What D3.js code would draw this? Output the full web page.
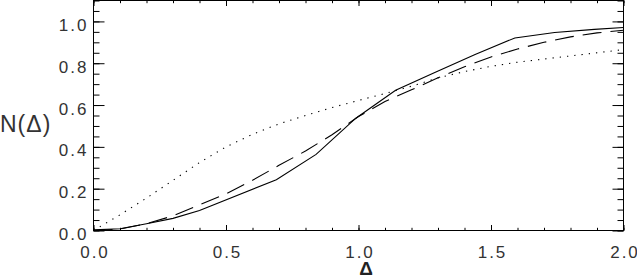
<!DOCTYPE html>
<html><head><meta charset="utf-8">
<script src="https://cdn.jsdelivr.net/npm/d3@7"></script>
<style>
html,body{margin:0;padding:0;background:#fff;}
svg text{font-family:"Liberation Sans",Arial,Helvetica,sans-serif;}
</style></head>
<body><svg id="c" width="637" height="279"></svg>
<script>
// ---- data ----
const solidX = [0, 0.1, 0.2, 0.3, 0.4, 0.69, 0.84, 0.99, 1.14, 1.29, 1.44, 1.59, 1.74, 1.89, 2.0];
const solidY = [0.003, 0.008, 0.032, 0.058, 0.096, 0.243, 0.364, 0.537, 0.671, 0.757, 0.842, 0.921, 0.947, 0.962, 0.971];
const dashX = [0, 0.1, 0.2, 0.3, 0.4, 0.5, 0.6, 0.7, 0.8, 0.9, 1.0, 1.1, 1.2, 1.3, 1.4, 1.5, 1.6, 1.7, 1.8, 1.9, 2.0];
const dashY = [0.0, 0.007, 0.033, 0.07, 0.123, 0.175, 0.24, 0.312, 0.38, 0.458, 0.545, 0.617, 0.673, 0.73, 0.783, 0.83, 0.868, 0.9, 0.926, 0.945, 0.958];
const dotX = [0, 0.1, 0.2, 0.3, 0.4, 0.5, 0.6, 0.7, 0.8, 0.9, 1.0, 1.1, 1.2, 1.3, 1.4, 1.5, 1.6, 1.7, 1.8, 1.9, 2.0];
const dotY = [0.0, 0.075, 0.155, 0.24, 0.325, 0.4, 0.46, 0.51, 0.55, 0.588, 0.622, 0.655, 0.69, 0.73, 0.76, 0.785, 0.805, 0.82, 0.835, 0.85, 0.865];
const xMajor = [0, 0.5, 1.0, 1.5, 2.0];
const xMinor = d3.range(0, 21).map(i => i / 10);
const yMajor = [0, 0.2, 0.4, 0.6, 0.8, 1.0];
const yMinor = d3.range(0, 23).map(i => i / 20);
const xTitle = "Δ";
const yTitle = "N(Δ)";

// ---- layout ----
const L = 93.5, R = 623.5, T = 0.5, B = 230.5;
const svg = d3.select("#c");
const x = d3.scaleLinear().domain([0, 2]).range([L, R]);
const y = d3.scaleLinear().domain([0, 1.1]).range([B, T]);

const fmt = d3.format(".1f");
function styleAxis(g){ g.select(".domain").remove(); g.selectAll("line").attr("stroke","#000").attr("stroke-width",1); }

// bottom ticks
svg.append("g").attr("transform",`translate(0,${B})`)
  .call(d3.axisBottom(x).tickValues(xMinor).tickSize(-2.7).tickFormat("")).call(styleAxis);
svg.append("g").attr("transform",`translate(0,${B})`)
  .call(d3.axisBottom(x).tickValues(xMajor).tickSize(-5.5).tickFormat(fmt))
  .call(styleAxis)
  .call(g=>g.selectAll("text").attr("font-size",17).attr("fill","#333").attr("letter-spacing","2px").attr("dx","1px").attr("dy",0).attr("y",27.5));
// top ticks
svg.append("g").attr("transform",`translate(0,${T})`)
  .call(d3.axisTop(x).tickValues(xMinor).tickSize(-2.7).tickFormat("")).call(styleAxis);
svg.append("g").attr("transform",`translate(0,${T})`)
  .call(d3.axisTop(x).tickValues(xMajor).tickSize(-5.5).tickFormat("")).call(styleAxis);
// left ticks
svg.append("g").attr("transform",`translate(${L},0)`)
  .call(d3.axisLeft(y).tickValues(yMinor).tickSize(-6).tickFormat("")).call(styleAxis);
svg.append("g").attr("transform",`translate(${L},0)`)
  .call(d3.axisLeft(y).tickValues(yMajor).tickSize(-11).tickFormat(fmt))
  .call(styleAxis)
  .call(g=>g.selectAll("text").attr("font-size",17).attr("fill","#333").attr("letter-spacing","2px")
      .attr("x",-5).attr("dy",0).attr("y",9).attr("text-anchor","end"));
// right ticks
svg.append("g").attr("transform",`translate(${R},0)`)
  .call(d3.axisRight(y).tickValues(yMinor).tickSize(-6).tickFormat("")).call(styleAxis);
svg.append("g").attr("transform",`translate(${R},0)`)
  .call(d3.axisRight(y).tickValues(yMajor).tickSize(-11).tickFormat("")).call(styleAxis);

// frame
svg.append("rect").attr("x",L).attr("y",T).attr("width",R-L).attr("height",B-T)
  .attr("fill","none").attr("stroke","#000").attr("stroke-width",1);

// lines
const line = d3.line().x(d=>x(d[0])).y(d=>y(d[1]));
function draw(xs, ys, dash){
  svg.append("path").datum(xs.map((v,i)=>[v, ys[i]]))
    .attr("d", line).attr("fill","none").attr("stroke","#000").attr("stroke-width",1.1)
    .attr("stroke-dasharray", dash);
}
draw(solidX, solidY, null);
draw(dashX, dashY, "19,9");
draw(dotX, dotY, "1.3,6");

// titles
svg.append("text").attr("x",0).attr("y",132).attr("font-size",23).attr("fill","#333").attr("letter-spacing","1px").text(yTitle);
svg.append("text").attr("x",366).attr("y",275).attr("text-anchor","middle").attr("font-size",19)
  .attr("font-weight","bold").attr("fill","#222").text(xTitle);
</script></body></html>
